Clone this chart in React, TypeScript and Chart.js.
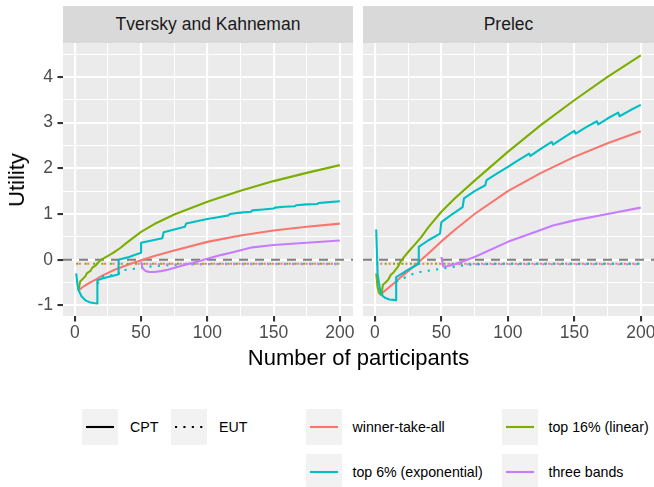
import React, { useEffect, useRef } from "react";
import { Chart, registerables } from "chart.js";

Chart.register(...registerables);

// ---- axis ticks ----
const X_TICKS = [0, 25, 50, 75, 100, 125, 150, 175, 200];
const X_LABELS = [0, 50, 100, 150, 200];
const Y_TICKS = [-1, -0.5, 0, 0.5, 1, 1.5, 2, 2.5, 3, 3.5, 4, 4.5];
const Y_LABELS = [-1, 0, 1, 2, 3, 4];
const X_MIN = -8.95;
const X_MAX = 209.95;
const Y_MIN = -1.233;
const Y_MAX = 4.75;

// ---- Tversky and Kahneman ----
const tkWinnerCptX = [3, 5, 8, 12, 16, 20, 25, 30, 40, 50, 60, 75, 100, 125, 150, 175, 200];
const tkWinnerCptY = [-0.67, -0.62, -0.56, -0.49, -0.43, -0.36, -0.29, -0.22, -0.11, -0.01, 0.08, 0.2, 0.39, 0.53, 0.64, 0.72, 0.79];
const tkWinnerEutX = [3, 200];
const tkWinnerEutY = [-0.09, -0.09];

const tkLinearCptX = [2, 3, 4, 6, 8, 9, 12, 13, 16, 18, 20, 23, 26, 30, 34, 40, 50, 60, 75, 100, 125, 150, 175, 200];
const tkLinearCptY = [-0.66, -0.62, -0.48, -0.42, -0.36, -0.3, -0.24, -0.18, -0.12, -0.05, 0.0, 0.05, 0.1, 0.17, 0.25, 0.39, 0.61, 0.78, 0.99, 1.27, 1.51, 1.72, 1.9, 2.07];
const tkLinearEutX = [1, 200];
const tkLinearEutY = [-0.09, -0.09];

const tkExpCptX = [1, 2, 3, 5, 8, 11, 14, 17, 17, 20, 25, 29, 33, 33, 40, 45, 50, 50, 58, 66, 67, 75, 83, 84, 92, 100, 108, 116, 117, 125, 133, 134, 142, 150, 151, 158, 166, 167, 175, 183, 184, 192, 200];
const tkExpCptY = [-0.3, -0.55, -0.68, -0.8, -0.89, -0.93, -0.95, -0.96, -0.45, -0.42, -0.38, -0.35, -0.32, 0.0, 0.05, 0.1, 0.15, 0.37, 0.42, 0.47, 0.6, 0.66, 0.72, 0.79, 0.84, 0.89, 0.93, 0.97, 1.0, 1.03, 1.05, 1.08, 1.1, 1.12, 1.14, 1.16, 1.17, 1.19, 1.21, 1.22, 1.24, 1.26, 1.28];
const tkExpEutX = [17, 21, 27, 33, 34, 45, 50, 57, 70, 90, 120, 200];
const tkExpEutY = [-0.53, -0.37, -0.34, -0.32, -0.24, -0.2, -0.18, -0.15, -0.12, -0.1, -0.09, -0.09];

const tkBandsCptX = [50, 51, 53, 56, 60, 65, 70, 80, 90, 100, 110, 120, 134, 150, 175, 200];
const tkBandsCptY = [-0.04, -0.18, -0.24, -0.27, -0.27, -0.25, -0.22, -0.14, -0.06, 0.02, 0.1, 0.17, 0.27, 0.32, 0.37, 0.42];
const tkBandsEutX = [50, 200];
const tkBandsEutY = [-0.1, -0.1];

// ---- Prelec ----
const prWinnerCptX = [4, 6, 10, 15, 20, 25, 33, 40, 50, 60, 75, 100, 125, 150, 175, 200];
const prWinnerCptY = [-0.78, -0.72, -0.62, -0.5, -0.37, -0.25, -0.05, 0.13, 0.4, 0.65, 1.0, 1.5, 1.9, 2.25, 2.55, 2.81];
const prWinnerEutX = [4, 200];
const prWinnerEutY = [-0.09, -0.09];

const prLinearCptX = [1, 2, 3, 4, 5, 6, 8, 10, 12, 14, 17, 19, 22, 26, 30, 35, 40, 50, 60, 75, 100, 125, 150, 175, 200];
const prLinearCptY = [-0.3, -0.6, -0.72, -0.76, -0.76, -0.55, -0.5, -0.44, -0.33, -0.28, -0.17, -0.06, 0.06, 0.2, 0.33, 0.5, 0.7, 1.05, 1.34, 1.73, 2.36, 2.95, 3.49, 4.0, 4.47];
const prLinearEutX = [1, 200];
const prLinearEutY = [-0.09, -0.09];

const prExpCptX = [1, 2, 3, 4, 6, 8, 11, 14, 16, 16, 20, 25, 33, 33, 40, 49, 50, 58, 66, 67, 75, 83, 84, 92, 100, 108, 116, 117, 125, 133, 134, 142, 150, 151, 159, 167, 168, 175, 183, 184, 192, 200];
const prExpCptY = [0.66, -0.3, -0.5, -0.67, -0.8, -0.84, -0.87, -0.88, -0.89, -0.38, -0.31, -0.22, -0.09, 0.28, 0.42, 0.57, 0.82, 0.99, 1.15, 1.34, 1.5, 1.63, 1.74, 1.89, 2.03, 2.18, 2.32, 2.27, 2.43, 2.58, 2.52, 2.67, 2.82, 2.76, 2.9, 3.03, 2.96, 3.09, 3.22, 3.14, 3.27, 3.39];
const prExpEutX = [16, 22, 28, 34, 45, 58, 71, 90, 120, 200];
const prExpEutY = [-0.48, -0.4, -0.32, -0.27, -0.22, -0.16, -0.11, -0.09, -0.09, -0.09];

const prBandsCptX = [50, 51.5, 55, 60, 64, 75, 100, 120, 134, 150, 175, 200];
const prBandsCptY = [0.06, -0.15, -0.14, -0.1, -0.06, 0.06, 0.39, 0.6, 0.75, 0.86, 1.0, 1.14];
const prBandsEutX = [50, 200];
const prBandsEutY = [-0.1, -0.1];

// ---- scheme labels and colours ----
const SCHEMES = ["winner-take-all", "top 16% (linear)", "top 6% (exponential)", "three bands"];
const SCHEME_COLORS = ["#F8766D", "#7CAE00", "#00BFC4", "#C77CFF"];
const MODELS = ["CPT", "EUT"];
const PANELS = ["Tversky and Kahneman", "Prelec"];

type Series = { color: string; cpt: [number[], number[]]; eut: [number[], number[]] };

const TK_SERIES: Series[] = [
  { color: SCHEME_COLORS[0], cpt: [tkWinnerCptX, tkWinnerCptY], eut: [tkWinnerEutX, tkWinnerEutY] },
  { color: SCHEME_COLORS[1], cpt: [tkLinearCptX, tkLinearCptY], eut: [tkLinearEutX, tkLinearEutY] },
  { color: SCHEME_COLORS[2], cpt: [tkExpCptX, tkExpCptY], eut: [tkExpEutX, tkExpEutY] },
  { color: SCHEME_COLORS[3], cpt: [tkBandsCptX, tkBandsCptY], eut: [tkBandsEutX, tkBandsEutY] },
];

const PR_SERIES: Series[] = [
  { color: SCHEME_COLORS[0], cpt: [prWinnerCptX, prWinnerCptY], eut: [prWinnerEutX, prWinnerEutY] },
  { color: SCHEME_COLORS[1], cpt: [prLinearCptX, prLinearCptY], eut: [prLinearEutX, prLinearEutY] },
  { color: SCHEME_COLORS[2], cpt: [prExpCptX, prExpCptY], eut: [prExpEutX, prExpEutY] },
  { color: SCHEME_COLORS[3], cpt: [prBandsCptX, prBandsCptY], eut: [prBandsEutX, prBandsEutY] },
];

const FONT = '"Liberation Sans", Arial, Helvetica, sans-serif';
const LINE_W = 2.1;
const DOTTED = [2.1, 6.3];
const DASHED = [9, 7];

const toPoints = (xs: number[], ys: number[]) => xs.map((x, i) => ({ x, y: ys[i] }));

const panelBackground = {
  id: "panelBackground",
  beforeDraw(chart: any) {
    const { ctx, chartArea: a } = chart;
    ctx.save();
    ctx.fillStyle = "#EBEBEB";
    ctx.fillRect(a.left, a.top, a.right - a.left, a.bottom - a.top);
    ctx.restore();
  },
};

function buildDatasets(series: Series[]) {
  // listed bottom-to-top; Chart.js draws higher `order` first
  const layers: any[] = [
    {
      data: toPoints([X_MIN, X_MAX], [0, 0]),
      borderColor: "#7F7F7F",
      borderDash: DASHED,
    },
  ];
  series.forEach((s) => {
    layers.push({ data: toPoints(s.cpt[0], s.cpt[1]), borderColor: s.color, borderDash: [] });
    layers.push({ data: toPoints(s.eut[0], s.eut[1]), borderColor: s.color, borderDash: DOTTED });
  });
  const n = layers.length;
  return layers.map((l, i) => ({
    ...l,
    order: n - i,
    borderWidth: LINE_W,
    pointRadius: 0,
    pointHoverRadius: 0,
    fill: false,
    tension: 0,
    borderCapStyle: "butt",
    borderJoinStyle: "round",
  }));
}

const isMajor = (v: number, labels: number[]) => labels.includes(v);

function Panel({ series, showY, left, width, padLeft, padRight }: {
  series: Series[]; showY: boolean; left: number; width: number; padLeft: number; padRight: number;
}) {
  const ref = useRef<HTMLCanvasElement>(null);
  const height = 350;
  useEffect(() => {
    if (!ref.current) return;
    const chart = new Chart(ref.current, {
      type: "line",
      data: { datasets: buildDatasets(series) as any },
      plugins: [panelBackground],
      options: {
        responsive: false,
        maintainAspectRatio: false,
        animation: false,
        events: [],
        layout: { autoPadding: false, padding: { left: padLeft, right: padRight, top: 42.7, bottom: 0 } },
        plugins: { legend: { display: false }, tooltip: { enabled: false }, title: { display: false } },
        scales: {
          x: {
            type: "linear",
            min: X_MIN,
            max: X_MAX,
            afterBuildTicks: (s: any) => { s.ticks = X_TICKS.map((v) => ({ value: v })); },
            afterFit: (s: any) => { s.height = height - 316; s.paddingLeft = 0; s.paddingRight = 0; },
            border: { display: false },
            grid: {
              color: "#FFFFFF",
              lineWidth: (c: any) => (isMajor(c.tick?.value, X_LABELS) ? 2.1 : 1.05),
              drawTicks: true,
              tickLength: 5.5,
              tickWidth: 2.1,
              tickColor: (c: any) => (isMajor(c.tick?.value, X_LABELS) ? "#333333" : "rgba(0,0,0,0)"),
            },
            ticks: {
              autoSkip: false,
              maxRotation: 0,
              minRotation: 0,
              padding: 1,
              color: "#4D4D4D",
              font: { family: FONT, size: 17.5 },
              callback: (v: any) => (X_LABELS.includes(v) ? String(v) : ""),
            },
          },
          y: {
            type: "linear",
            min: Y_MIN,
            max: Y_MAX,
            afterBuildTicks: (s: any) => { s.ticks = Y_TICKS.map((v) => ({ value: v })); },
            afterFit: (s: any) => { s.width = showY ? 63 : 0; s.paddingTop = 0; s.paddingBottom = 0; },
            border: { display: false },
            grid: {
              color: "#FFFFFF",
              lineWidth: (c: any) => (isMajor(c.tick?.value, Y_LABELS) ? 2.1 : 1.05),
              drawTicks: showY,
              tickLength: 5.5,
              tickWidth: 2.1,
              tickColor: (c: any) => (isMajor(c.tick?.value, Y_LABELS) ? "#333333" : "rgba(0,0,0,0)"),
            },
            ticks: {
              display: showY,
              autoSkip: false,
              padding: 4.4,
              color: "#4D4D4D",
              font: { family: FONT, size: 17.5 },
              callback: (v: any) => (Y_LABELS.includes(v) ? String(v) : ""),
            },
          },
        },
      } as any,
    });
    return () => chart.destroy();
  }, [series, showY, padLeft, padRight]);
  return (
    <canvas
      ref={ref}
      width={width}
      height={height}
      style={{ position: "absolute", left, top: 0, width, height }}
    />
  );
}

function Strip({ left, width, label }: { left: number; width: number; label: string }) {
  return (
    <div
      style={{
        position: "absolute", left, top: 6, width, height: 36.7, background: "#D9D9D9",
        display: "flex", alignItems: "center", justifyContent: "center",
        fontSize: 17.5, color: "#1A1A1A", lineHeight: 1, whiteSpace: "nowrap",
      }}
    >
      {label}
    </div>
  );
}

function KeyBox({ left, top, color, dash }: { left: number; top: number; color: string; dash?: number[] }) {
  return (
    <svg
      width={36}
      height={36}
      style={{ position: "absolute", left, top, background: "#F2F2F2", display: "block" }}
    >
      <line
        x1={4} y1={18} x2={32} y2={18}
        stroke={color}
        strokeWidth={LINE_W}
        strokeDasharray={dash ? dash.join(" ") : undefined}
        strokeLinecap="butt"
      />
    </svg>
  );
}

function KeyLabel({ left, centerY, text }: { left: number; centerY: number; text: string }) {
  return (
    <div
      style={{
        position: "absolute", left, top: centerY, transform: "translateY(-50%)",
        fontSize: 14.2, lineHeight: 1, color: "#000000", whiteSpace: "nowrap",
      }}
    >
      {text}
    </div>
  );
}

export default function App() {
  const row1 = 409;
  const row2 = 454;
  const colorKeys = [
    { left: 306, top: row1, i: 0 },
    { left: 502, top: row1, i: 1 },
    { left: 306, top: row2, i: 2 },
    { left: 502, top: row2, i: 3 },
  ];
  return (
    <div
      style={{
        position: "fixed", left: 0, top: 0, width: 654, height: 487, overflow: "hidden",
        background: "#FFFFFF", fontFamily: FONT,
      }}
    >
      <Panel series={TK_SERIES} showY={true} left={0} width={356} padLeft={0} padRight={3} />
      <Panel series={PR_SERIES} showY={false} left={356} width={298} padLeft={7} padRight={0} />

      <Strip left={63} width={290} label={PANELS[0]} />
      <Strip left={363} width={291} label={PANELS[1]} />

      <div
        style={{
          position: "absolute", left: 17, top: 179.5,
          transform: "translate(-50%, -50%) rotate(-90deg)",
          fontSize: 22, lineHeight: 1, color: "#000000", whiteSpace: "nowrap",
        }}
      >
        Utility
      </div>
      <div
        style={{
          position: "absolute", left: 358.5, top: 358,
          transform: "translate(-50%, -50%)",
          fontSize: 22, lineHeight: 1, color: "#000000", whiteSpace: "nowrap",
        }}
      >
        Number of participants
      </div>

      <KeyBox left={82} top={row1} color="#000000" />
      <KeyLabel left={130} centerY={row1 + 18} text={MODELS[0]} />
      <KeyBox left={171} top={row1} color="#000000" dash={DOTTED} />
      <KeyLabel left={219} centerY={row1 + 18} text={MODELS[1]} />

      {colorKeys.map((k) => (
        <React.Fragment key={k.i}>
          <KeyBox left={k.left} top={k.top} color={SCHEME_COLORS[k.i]} />
          <KeyLabel left={k.left + 46.5} centerY={k.top + 18} text={SCHEMES[k.i]} />
        </React.Fragment>
      ))}
    </div>
  );
}
